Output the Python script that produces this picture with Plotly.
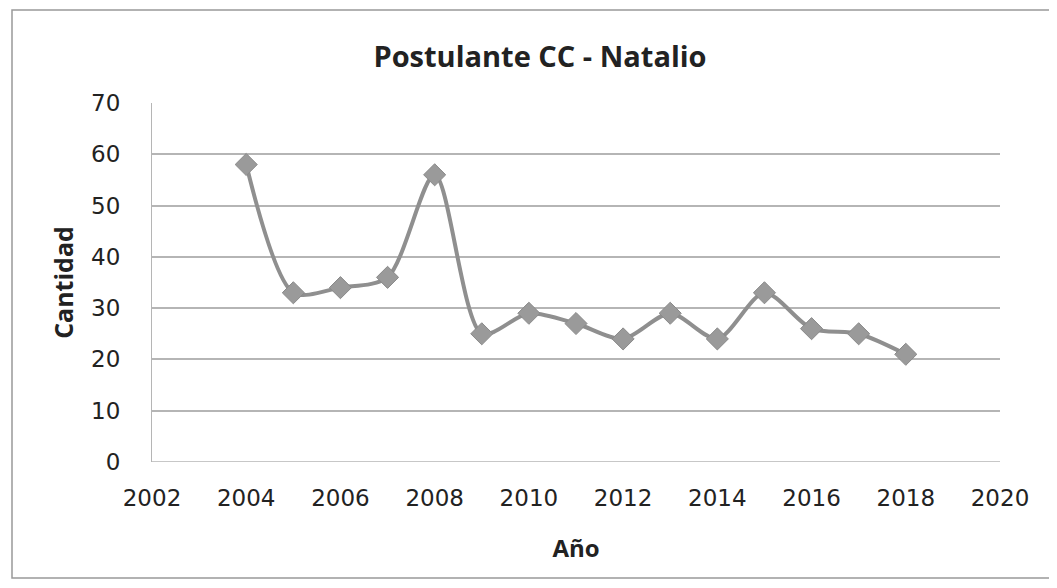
import plotly.graph_objects as go

years = [2004, 2005, 2006, 2007, 2008, 2009, 2010, 2011, 2012, 2013, 2014, 2015, 2016, 2017, 2018]
cantidad = [58, 33, 34, 36, 56, 25, 29, 27, 24, 29, 24, 33, 26, 25, 21]
x_ticks = [2002, 2004, 2006, 2008, 2010, 2012, 2014, 2016, 2018, 2020]
y_ticks = [0, 10, 20, 30, 40, 50, 60, 70]

# page body has an 8px default margin; size the figure so the plot lands where the reference has it
OFF = 8
W, H = 1057 - OFF, 588 - OFF
L, R, T, B = 152 - OFF, 57, 103 - OFF, 126
pw, ph = W - L - R, H - T - B

fig = go.Figure()
fig.add_trace(go.Scatter(
    x=years, y=cantidad, mode="lines+markers",
    line=dict(shape="spline", smoothing=0.8, color="#8f8f8f", width=4),
    marker=dict(symbol="diamond", size=17, color="#9a9a9a", line=dict(color="#8a8a8a", width=1)),
    showlegend=False,
))

tick_font = "DejaVu Sans, Verdana, sans-serif"
title_font = "Open Sans, Liberation Sans, sans-serif"
fig.update_layout(
    width=W, height=H,
    margin=dict(l=L, r=R, t=T, b=B, autoexpand=False),
    paper_bgcolor="white", plot_bgcolor="white",
    title=dict(text="<b>Postulante CC - Natalio</b>", x=(540 - OFF) / W, xanchor="center",
               y=1 - (57 - OFF) / H, yanchor="middle", font=dict(family=title_font, size=29, color="#222")),
    xaxis=dict(range=[2002, 2020], tickvals=x_ticks, showgrid=False, zeroline=False,
               showline=False, ticks="", ticklabelstandoff=20, automargin=False,
               tickfont=dict(family=tick_font, size=23, color="#222"),
               title=dict(text="<b>Año</b>", font=dict(family=title_font, size=24, color="#222"), standoff=30)),
    yaxis=dict(range=[0, 70], tickvals=y_ticks, showgrid=True, gridcolor="#b5b5b5", gridwidth=1.5,
               zeroline=False, showline=True, linecolor="#b5b5b5", ticks="", automargin=False,
               ticklabelstandoff=26,
               tickfont=dict(family=tick_font, size=23, color="#222"),
               title=dict(text="<b>Cantidad</b>", font=dict(family=title_font, size=25, color="#222"), standoff=10)),
)

# x axis line at y=0
fig.add_shape(type="line", xref="paper", yref="y", x0=0, x1=1, y0=0, y1=0,
              line=dict(color="#b5b5b5", width=1.5))
# outer chart border
fig.add_shape(type="rect", xref="paper", yref="paper",
              x0=(12 - 152) / pw, x1=(1054 - 152) / pw,
              y0=(462 - 578) / ph, y1=(462 - 10) / ph,
              line=dict(color="#999999", width=1.5))

fig.write_html("out.html")
